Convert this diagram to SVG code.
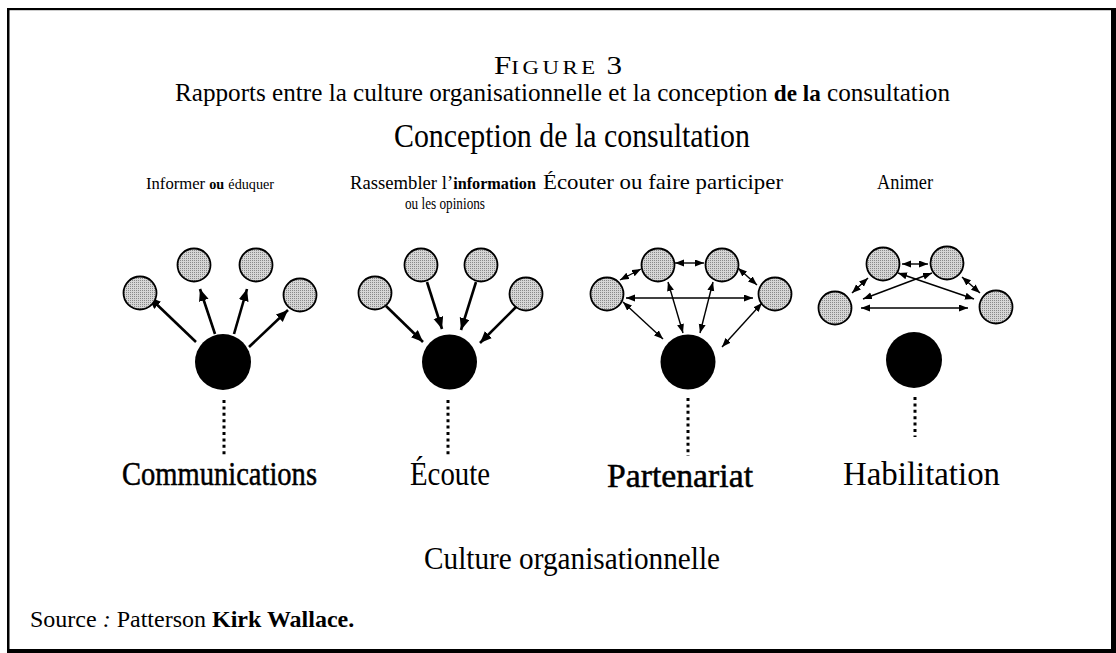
<svg xmlns="http://www.w3.org/2000/svg" width="1116" height="653" viewBox="0 0 1116 653">
  <defs>
    <pattern id="stipple" patternUnits="userSpaceOnUse" width="2" height="2">
      <rect width="2" height="2" fill="#d6d6d6"/>
      <rect width="1" height="1" fill="#8a8a8a"/>
    </pattern>
    <marker id="headBig" markerUnits="userSpaceOnUse" markerWidth="13" markerHeight="11" refX="12" refY="5" orient="auto">
      <path d="M0,0 L12,5 L0,10 z" fill="#000"/>
    </marker>
    <marker id="headSmall" markerUnits="userSpaceOnUse" markerWidth="10" markerHeight="8" refX="9" refY="3.5" orient="auto-start-reverse">
      <path d="M0,0 L9,3.5 L0,7 z" fill="#000"/>
    </marker>
  </defs>
  <style>
    text { font-family: "Liberation Serif", "Times New Roman", serif; fill: #000; }
    .b { font-weight: bold; }
    .dark { stroke: #000; stroke-width: 0.5; }
    .sat { fill: url(#stipple); stroke: #000; stroke-width: 1.8; }
    .core { fill: #000; }
    .one { stroke: #000; stroke-width: 2.6; fill: none; marker-end: url(#headBig); }
    .two { stroke: #000; stroke-width: 1.4; fill: none; marker-start: url(#headSmall); marker-end: url(#headSmall); }
    .dots { stroke: #000; stroke-width: 3; stroke-dasharray: 3 3.4; fill: none; }
  </style>

  <rect width="1116" height="653" fill="#fff"/>

  <!-- frame -->
  <g id="frame" fill="#000">
    <rect x="7" y="8" width="2.5" height="645"/>
    <rect x="7" y="8" width="1109" height="2.2"/>
    <rect x="1111" y="8" width="5" height="645"/>
    <rect x="7" y="649" width="1109" height="4"/>
  </g>

  <!-- titles -->
  <g id="title">
    <text x="494" y="74" font-size="26" textLength="128" lengthAdjust="spacingAndGlyphs">F<tspan font-size="19" letter-spacing="3">IGURE</tspan> 3</text>
    <text x="175" y="101" font-size="25" textLength="775" lengthAdjust="spacingAndGlyphs">Rapports entre la culture organisationnelle et la conception <tspan class="b" font-size="23">de la</tspan> consultation</text>
    <text x="394" y="147" font-size="34" textLength="356" lengthAdjust="spacingAndGlyphs">Conception de la consultation</text>
  </g>

  <!-- column headings -->
  <g id="headings">
    <text x="146" y="189" font-size="17" textLength="128" lengthAdjust="spacingAndGlyphs">Informer <tspan class="b" font-size="14.5">ou</tspan> <tspan font-size="14.5">éduquer</tspan></text>
    <text x="350" y="189" font-size="19" textLength="186" lengthAdjust="spacingAndGlyphs">Rassembler l’<tspan class="b" font-size="16.5">information</tspan></text>
    <text x="405" y="209" font-size="17" textLength="80" lengthAdjust="spacingAndGlyphs">ou les opinions</text>
    <text x="543" y="189" font-size="21" textLength="240" lengthAdjust="spacingAndGlyphs">Écouter ou faire participer</text>
    <text x="877" y="189" font-size="21" textLength="56" lengthAdjust="spacingAndGlyphs">Animer</text>
  </g>

  <!-- connectors -->
  <g id="connectors">
    <!-- informer: centre to members -->
    <line class="one" x1="196" y1="342" x2="149" y2="297"/>
    <line class="one" x1="215" y1="334" x2="200" y2="289"/>
    <line class="one" x1="234" y1="334" x2="247" y2="289"/>
    <line class="one" x1="249" y1="347" x2="288" y2="310"/>
    <!-- rassembler: members to centre -->
    <line class="one" x1="386" y1="306" x2="423" y2="342"/>
    <line class="one" x1="427" y1="282" x2="442" y2="329"/>
    <line class="one" x1="476" y1="282" x2="461" y2="330"/>
    <line class="one" x1="516" y1="307" x2="480" y2="343"/>
    <!-- ecouter: two-way links -->
    <line class="two" x1="620" y1="280" x2="641" y2="269"/>
    <line class="two" x1="675" y1="263" x2="704" y2="263"/>
    <line class="two" x1="738" y1="268" x2="757" y2="285"/>
    <line class="two" x1="626" y1="298" x2="753" y2="298"/>
    <line class="two" x1="623" y1="302" x2="663" y2="339"/>
    <line class="two" x1="668" y1="282" x2="683" y2="333"/>
    <line class="two" x1="713" y1="282" x2="700" y2="333"/>
    <line class="two" x1="762" y1="303" x2="722" y2="347"/>
    <!-- animer: links among members only -->
    <line class="two" x1="902" y1="264" x2="928" y2="264"/>
    <line class="two" x1="868" y1="278" x2="852" y2="293"/>
    <line class="two" x1="962" y1="277" x2="980" y2="293"/>
    <line class="two" x1="861" y1="308" x2="968" y2="308"/>
    <line class="two" x1="898" y1="273" x2="974" y2="299"/>
    <line class="two" x1="932" y1="273" x2="863" y2="299"/>
    <!-- dotted stems -->
    <line class="dots" x1="224" y1="400" x2="224" y2="456"/>
    <line class="dots" x1="448" y1="400" x2="448" y2="456"/>
    <line class="dots" x1="688" y1="398" x2="688" y2="456"/>
    <line class="dots" x1="915" y1="397" x2="915" y2="437"/>
  </g>

  <!-- model 1: informer ou eduquer -->
  <g id="informer">
    <circle class="core" cx="223" cy="362" r="28"/>
    <circle class="sat" cx="140" cy="293" r="16.5"/>
    <circle class="sat" cx="194" cy="265" r="16.5"/>
    <circle class="sat" cx="256" cy="265" r="16.5"/>
    <circle class="sat" cx="300" cy="295" r="16.5"/>
  </g>

  <!-- model 2: rassembler -->
  <g id="rassembler">
    <circle class="core" cx="449.5" cy="362" r="27.5"/>
    <circle class="sat" cx="375" cy="293" r="16.5"/>
    <circle class="sat" cx="421" cy="265" r="16.5"/>
    <circle class="sat" cx="481" cy="265" r="16.5"/>
    <circle class="sat" cx="526" cy="294" r="16.5"/>
  </g>

  <!-- model 3: ecouter ou faire participer -->
  <g id="ecouter">
    <circle class="core" cx="688" cy="362" r="27.5"/>
    <circle class="sat" cx="607" cy="294" r="16.5"/>
    <circle class="sat" cx="658" cy="265" r="16.5"/>
    <circle class="sat" cx="722" cy="265" r="16.5"/>
    <circle class="sat" cx="775" cy="294" r="16.5"/>
  </g>

  <!-- model 4: animer -->
  <g id="animer">
    <circle class="core" cx="914" cy="360" r="28"/>
    <circle class="sat" cx="883" cy="264" r="16.5"/>
    <circle class="sat" cx="947" cy="263" r="16.5"/>
    <circle class="sat" cx="835" cy="308" r="16.5"/>
    <circle class="sat" cx="996" cy="307" r="16.5"/>
  </g>

  <!-- culture labels -->
  <g id="cultures">
    <text x="122" y="485" font-size="34" class="dark" textLength="195" lengthAdjust="spacingAndGlyphs">Communications</text>
    <text x="410" y="485" font-size="34" textLength="80" lengthAdjust="spacingAndGlyphs">Écoute</text>
    <text x="607" y="487" font-size="34" class="dark" textLength="146" lengthAdjust="spacingAndGlyphs">Partenariat</text>
    <text x="843" y="485" font-size="34" textLength="157" lengthAdjust="spacingAndGlyphs">Habilitation</text>
    <text x="424" y="569" font-size="31" textLength="296" lengthAdjust="spacingAndGlyphs">Culture  organisationnelle</text>
  </g>

  <!-- source -->
  <g id="source">
    <text x="30" y="627" font-size="24">Source <tspan font-style="italic">:</tspan> Patterson <tspan class="b">Kirk  Wallace.</tspan></text>
  </g>
</svg>
